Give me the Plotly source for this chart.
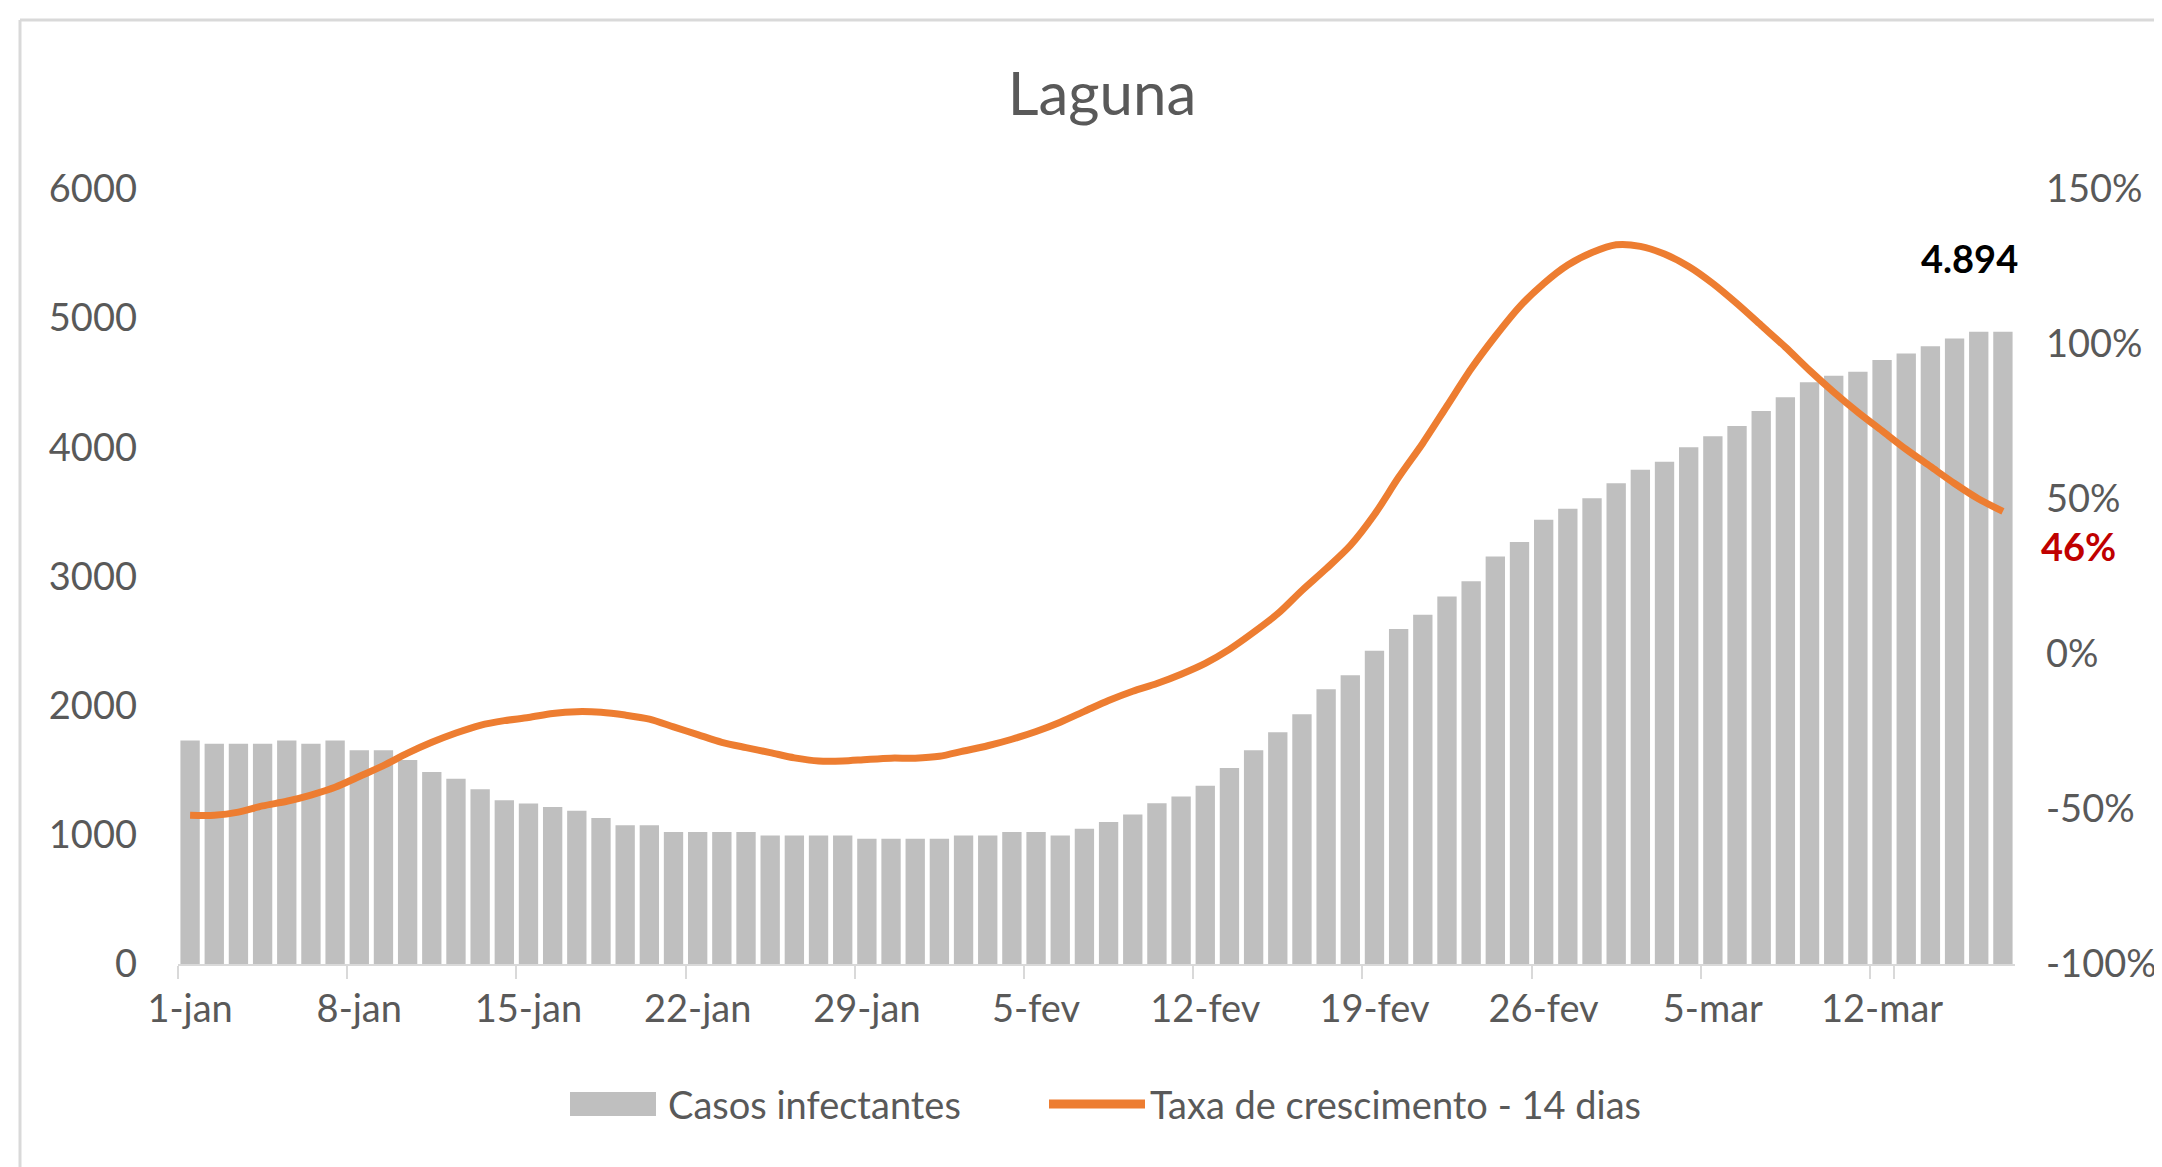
import plotly.graph_objects as go

# categorias (dias)
meses = [("jan", 31), ("fev", 28), ("mar", 17)]
dias = [f"{d}-{m}" for m, n in meses for d in range(1, n + 1)]

casos = [1731, 1705, 1705, 1705, 1731, 1705, 1731, 1654, 1654, 1580,
         1486, 1434, 1352, 1268, 1242, 1216, 1186, 1130, 1075, 1075,
         1021, 1021, 1021, 1021, 995, 995, 995, 995, 969, 969,
         969, 969, 995, 995, 1021, 1021, 995, 1047, 1099, 1158,
         1245, 1297, 1380, 1517, 1655, 1795, 1933, 2127, 2236, 2425,
         2594, 2703, 2845, 2964, 3154, 3267, 3439, 3524, 3606, 3721,
         3827, 3888, 4000, 4085, 4166, 4282, 4388, 4503, 4554, 4585,
         4676, 4727, 4782, 4843, 4894, 4894]

taxa = [-52, -52, -51, -49, -47.5, -45.5, -43, -39.5, -36, -32,
        -28.5, -25.5, -23, -21.5, -20.5, -19.2, -18.6, -18.8, -19.7, -21,
        -23.5, -26, -28.5, -30.2, -31.8, -33.5, -34.5, -34.5, -34, -33.6,
        -33.6, -33, -31.3, -29.6, -27.5, -25, -22, -18.5, -15, -12,
        -9.5, -6.5, -3, 1.5, 7, 13, 20.5, 27.5, 35, 45,
        57, 68, 80, 92, 102.5, 112, 119.5, 125.5, 129.5, 132,
        131.5, 129, 125, 119.5, 113, 106, 99, 91.5, 84.5, 78,
        72, 66, 60.5, 55, 50, 46]

pct_ticks = [-100, -50, 0, 50, 100, 150]
pct_text = ["-100%", "-50%", "0%", "50%", "100%", "150%"]

W, H = 2162, 1167
L, R, T, B = 170, 155, 181, 211
FONT = "Lato"
GREY = "#595959"
FS = 38


def px_x(p):
    return (p - L) / (W - L - R)


def px_y(p):
    return (H - B - p) / (H - T - B)


fig = go.Figure()
fig.add_bar(x=dias, y=casos, marker_color="#BFBFBF", marker_line_width=0,
            name="Casos infectantes")
fig.add_scatter(x=dias, y=taxa, yaxis="y2", mode="lines",
                line=dict(color="#ED7D31", width=7, shape="spline", smoothing=0.8),
                name="Taxa de crescimento - 14 dias")

fig.update_layout(
    width=W, height=H,
    margin=dict(l=L, r=R, t=T, b=B),
    paper_bgcolor="white", plot_bgcolor="white",
    showlegend=False, bargap=0.2,
    font=dict(family=FONT, color=GREY, size=FS),
    title=dict(text="Laguna", x=px_x(1094), xref="paper", xanchor="center",
               y=1 - 86 / H, yref="container", yanchor="middle",
               font=dict(size=60, color=GREY, family=FONT)),
    xaxis=dict(type="category", range=[-0.5, len(dias) - 0.5], autorange=False,
               tickmode="array", tickvals=dias[::7], ticktext=dias[::7], tickangle=0,
               tickson="boundaries", ticks="outside", ticklen=13, tickcolor="#D9D9D9",
               tickwidth=2, showline=True, linecolor="#D9D9D9", linewidth=2,
               showgrid=False, automargin=False,
               tickfont=dict(size=FS, color=GREY), ticklabelstandoff=10),
    yaxis=dict(range=[0, 6000], dtick=1000, tickformat="d", showgrid=False,
               zeroline=False, showline=False, automargin=False,
               tickfont=dict(size=FS, color=GREY), ticklabelstandoff=40),
    yaxis2=dict(overlaying="y", side="right", range=[-100, 150], tickmode="array",
                tickvals=pct_ticks, ticktext=pct_text, showgrid=False, zeroline=False,
                showline=False, automargin=False,
                tickfont=dict(size=FS, color=GREY), ticklabelstandoff=30),
)

# rótulos de dados
fig.add_annotation(x=dias[-1], y=casos[-1], text="<b>4.894</b>", showarrow=False,
                   xanchor="right", yanchor="middle", xshift=17, yshift=74,
                   font=dict(size=FS, color="#000000", family=FONT))
fig.add_annotation(x=dias[-1], y=taxa[-1], yref="y2", text="<b>46%</b>", showarrow=False,
                   xanchor="left", yanchor="middle", xshift=36, yshift=-35,
                   font=dict(size=FS, color="#C00000", family=FONT))

# legenda desenhada à mão
ly = 1096
fig.add_shape(type="rect", xref="paper", yref="paper",
              x0=px_x(562), x1=px_x(648), y0=px_y(ly + 12), y1=px_y(ly - 12),
              fillcolor="#BFBFBF", line_width=0)
fig.add_annotation(xref="paper", yref="paper", x=px_x(658), y=px_y(ly),
                   text="Casos infectantes", showarrow=False, xanchor="left",
                   yanchor="middle", font=dict(size=FS, color=GREY, family=FONT))
fig.add_shape(type="line", xref="paper", yref="paper",
              x0=px_x(1041), x1=px_x(1137), y0=px_y(ly), y1=px_y(ly),
              line=dict(color="#ED7D31", width=9))
fig.add_annotation(xref="paper", yref="paper", x=px_x(1140), y=px_y(ly),
                   text="Taxa de crescimento - 14 dias", showarrow=False, xanchor="left",
                   yanchor="middle", font=dict(size=FS, color=GREY, family=FONT))

# borda do gráfico
fig.add_shape(type="line", xref="paper", yref="paper",
              x0=px_x(12), x1=px_x(W + 20), y0=px_y(12), y1=px_y(12),
              line=dict(color="#D9D9D9", width=3))
fig.add_shape(type="line", xref="paper", yref="paper",
              x0=px_x(12), x1=px_x(12), y0=px_y(12), y1=px_y(H + 20),
              line=dict(color="#D9D9D9", width=3))

fig.write_html("out.html")
